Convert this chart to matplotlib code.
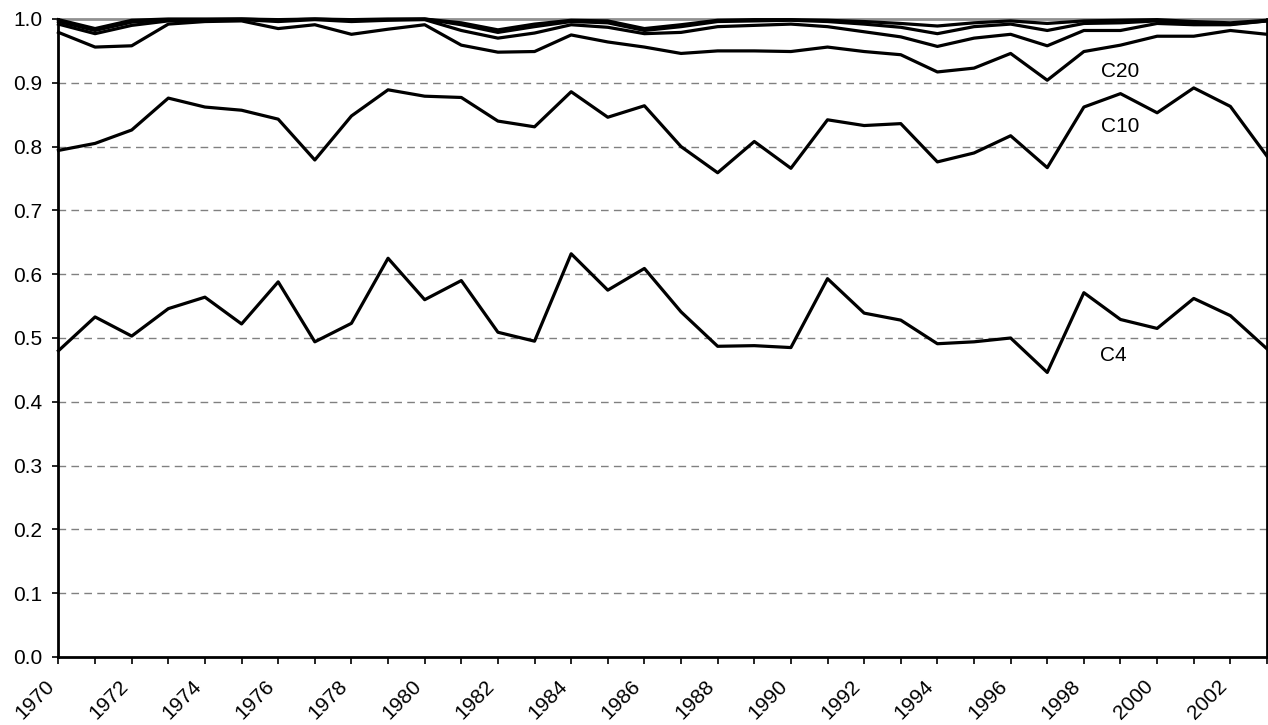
import numpy as np
import matplotlib.pyplot as plt

plt.rcParams['font.family'] = ['Liberation Sans', 'DejaVu Sans']

years = list(range(1970, 2004))

C4 = [0.480, 0.533, 0.503, 0.546, 0.564, 0.522, 0.588, 0.494, 0.523, 0.625,
      0.560, 0.590, 0.509, 0.495, 0.632, 0.575, 0.609, 0.541, 0.487, 0.488,
      0.485, 0.593, 0.539, 0.528, 0.491, 0.494, 0.500, 0.446, 0.571, 0.529,
      0.515, 0.562, 0.535, 0.483]

C10 = [0.794, 0.805, 0.826, 0.876, 0.862, 0.857, 0.843, 0.779, 0.848, 0.889,
       0.879, 0.877, 0.840, 0.831, 0.886, 0.846, 0.864, 0.800, 0.759, 0.808,
       0.766, 0.842, 0.833, 0.836, 0.776, 0.790, 0.817, 0.767, 0.862, 0.883,
       0.853, 0.892, 0.863, 0.785]

C20 = [0.979, 0.956, 0.958, 0.992, 0.996, 0.997, 0.985, 0.991, 0.976, 0.984,
       0.991, 0.959, 0.948, 0.949, 0.975, 0.964, 0.956, 0.946, 0.950, 0.950,
       0.949, 0.956, 0.949, 0.944, 0.917, 0.923, 0.946, 0.904, 0.949, 0.959,
       0.973, 0.973, 0.982, 0.976]

C30 = [0.992, 0.977, 0.990, 0.997, 0.998, 0.999, 0.996, 0.999, 0.996, 0.998,
       0.999, 0.982, 0.970, 0.978, 0.991, 0.987, 0.977, 0.979, 0.988, 0.990,
       0.992, 0.988, 0.980, 0.972, 0.957, 0.970, 0.976, 0.958, 0.982, 0.982,
       0.993, 0.991, 0.991, 0.997]

C40 = [0.996, 0.982, 0.995, 0.999, 0.999, 1.000, 0.998, 1.000, 0.998, 0.999,
       1.000, 0.991, 0.979, 0.988, 0.996, 0.994, 0.982, 0.988, 0.996, 0.997,
       0.998, 0.996, 0.992, 0.987, 0.977, 0.988, 0.992, 0.982, 0.993, 0.994,
       0.997, 0.993, 0.992, 0.997]

C50 = [0.999, 0.985, 0.998, 1.000, 1.000, 1.000, 0.999, 1.000, 0.999, 1.000,
       1.000, 0.994, 0.983, 0.992, 0.998, 0.997, 0.985, 0.991, 0.998, 0.999,
       0.999, 0.998, 0.996, 0.993, 0.989, 0.994, 0.997, 0.993, 0.997, 0.998,
       0.999, 0.996, 0.994, 0.998]

yticks = [0.0, 0.1, 0.2, 0.3, 0.4, 0.5, 0.6, 0.7, 0.8, 0.9, 1.0]

fig = plt.figure(figsize=(12.68, 7.25), dpi=100)
ax = fig.add_axes([0.0461, 0.0938, 0.9531, 0.88])

# dashed grid
for v in yticks[1:-1]:
    ax.axhline(v, color='#808080', lw=1.0, ls=(0, (5.5, 3.8)), zorder=1)

for s in [C50, C40, C30, C20, C10, C4]:
    ax.plot(years, s, color='black', lw=2.3, clip_on=False, zorder=3)

ax.text(1999, 0.917, 'C20', fontsize=15, ha='center', va='center')
ax.text(1999, 0.831, 'C10', fontsize=15, ha='center', va='center')
ax.text(1998.8, 0.472, 'C4', fontsize=15, ha='center', va='center')

ax.set_xlim(1970, 2003)
ax.set_ylim(0, 1.0)
ax.set_yticks(yticks)
ax.set_yticklabels(['%.1f' % v for v in yticks], fontsize=15)
ax.set_xticks(years)
# labels hang left of the tick, like excel does it
ax.set_xticklabels([str(y) if y % 2 == 0 else '' for y in years],
                   fontsize=15, rotation=45, ha='right', va='bottom',
                   rotation_mode='anchor')

ax.tick_params(axis='y', direction='out', length=4.5, width=1.2, pad=7)
ax.tick_params(axis='x', direction='out', length=5, width=1.2, pad=18.5)

ax.spines['left'].set_linewidth(2)
ax.spines['bottom'].set_linewidth(2)
ax.spines['right'].set_linewidth(2)
ax.spines['top'].set_color('#909090')
ax.spines['top'].set_linewidth(2)
ax.spines['top'].set_zorder(0)

fig.savefig('out.png', dpi=100)
